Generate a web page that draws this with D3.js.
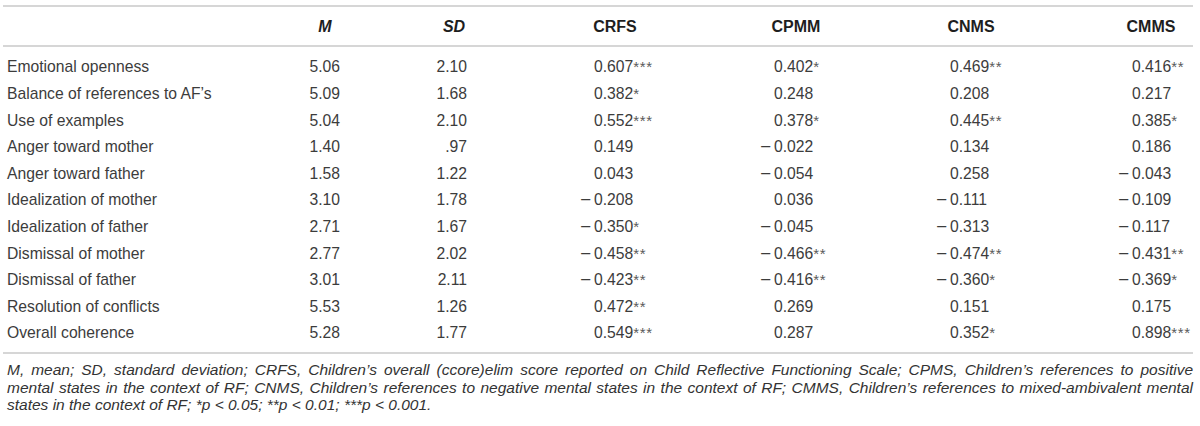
<!DOCTYPE html>
<html>
<head>
<meta charset="utf-8">
<script src="https://cdn.jsdelivr.net/npm/d3@7"></script>
<style>
  html, body { margin: 0; padding: 0; background: #fff; }
  svg { display: block; }
</style>
</head>
<body>
<div id="chart"></div>
<script>
// ---------- data ----------
const rowLabels = [
  "Emotional openness",
  "Balance of references to AF\u2019s",
  "Use of examples",
  "Anger toward mother",
  "Anger toward father",
  "Idealization of mother",
  "Idealization of father",
  "Dismissal of mother",
  "Dismissal of father",
  "Resolution of conflicts",
  "Overall coherence"
];
const columnHeaders = ["M", "SD", "CRFS", "CPMM", "CNMS", "CMMS"];
const meanVals = [5.06, 5.09, 5.04, 1.40, 1.58, 3.10, 2.71, 2.77, 3.01, 5.53, 5.28];
const sdVals   = [2.10, 1.68, 2.10, 0.97, 1.22, 1.78, 1.67, 2.02, 2.11, 1.26, 1.77];
const crfsVals = [0.607, 0.382, 0.552, 0.149, 0.043, -0.208, -0.350, -0.458, -0.423, 0.472, 0.549];
const crfsSig  = [3, 1, 3, 0, 0, 0, 1, 2, 2, 2, 3];
const cpmmVals = [0.402, 0.248, 0.378, -0.022, -0.054, 0.036, -0.045, -0.466, -0.416, 0.269, 0.287];
const cpmmSig  = [1, 0, 1, 0, 0, 0, 0, 2, 2, 0, 0];
const cnmsVals = [0.469, 0.208, 0.445, 0.134, 0.258, -0.111, -0.313, -0.474, -0.360, 0.151, 0.352];
const cnmsSig  = [2, 0, 2, 0, 0, 0, 0, 2, 1, 0, 1];
const cmmsVals = [0.416, 0.217, 0.385, 0.186, -0.043, -0.109, -0.117, -0.431, -0.369, 0.175, 0.898];
const cmmsSig  = [2, 0, 1, 0, 0, 0, 0, 2, 1, 0, 3];
const footnoteLines = [
  "M, mean; SD, standard deviation; CRFS, Children\u2019s overall (ccore)elim score reported on Child Reflective Functioning Scale; CPMS, Children\u2019s references to positive",
  "mental states in the context of RF; CNMS, Children\u2019s references to negative mental states in the context of RF; CMMS, Children\u2019s references to mixed-ambivalent mental",
  "states in the context of RF; *p < 0.05; **p < 0.01; ***p < 0.001."
];

// ---------- layout ----------
const W = 1200, H = 426;
const FONT = "'Liberation Sans', Arial, Helvetica, sans-serif";
const svg = d3.select("#chart").append("svg").attr("width", W).attr("height", H)
  .style("font-family", FONT);
svg.append("rect").attr("width", W).attr("height", H).attr("fill", "#fff");

const y = d3.scalePoint().domain(d3.range(rowLabels.length)).range([67, 333]);
const headX = d3.scaleOrdinal().domain(columnHeaders).range([325, 454, 615, 796, 971, 1151]);
const valX  = d3.scaleOrdinal().domain(columnHeaders).range([340, 467, 594, 774, 950, 1132]);

const lineColor = "#d6d6d6";
[6, 46, 353].forEach(ly => {
  svg.append("line").attr("x1", 3).attr("x2", 1193).attr("y1", ly).attr("y2", ly)
    .attr("stroke", lineColor).attr("stroke-width", 2);
});

// header
svg.append("g").selectAll("text").data(columnHeaders).join("text")
  .attr("x", d => headX(d)).attr("y", 26.5).attr("dy", "0.35em")
  .attr("text-anchor", "middle")
  .attr("font-size", 16).attr("font-weight", "bold")
  .attr("font-style", d => (d === "M" || d === "SD") ? "italic" : "normal")
  .attr("fill", "#1e1e1e")
  .text(d => d);

const bodyColor = "#3c3c3c";
const bodySize = 15.7;

// row labels
svg.append("g").selectAll("text").data(rowLabels).join("text")
  .attr("x", 7).attr("y", (d, i) => y(i)).attr("dy", "0.35em")
  .attr("font-size", bodySize).attr("fill", bodyColor)
  .text(d => d);

// M and SD (right aligned)
const fmt2 = v => { const s = d3.format(".2f")(v); return v < 1 ? s.replace(/^0/, "") : s; };
[["M", meanVals], ["SD", sdVals]].forEach(([key, vals]) => {
  svg.append("g").selectAll("text").data(vals).join("text")
    .attr("x", valX(key)).attr("y", (d, i) => y(i)).attr("dy", "0.35em")
    .attr("text-anchor", "end")
    .attr("font-size", bodySize).attr("fill", bodyColor)
    .text(d => fmt2(d));
});

// correlation columns (decimal aligned; minus and stars hang)
const fmt3 = d3.format(".3f");
const corrCols = [["CRFS", crfsVals, crfsSig], ["CPMM", cpmmVals, cpmmSig],
                  ["CNMS", cnmsVals, cnmsSig], ["CMMS", cmmsVals, cmmsSig]];
corrCols.forEach(([key, vals, sig]) => {
  const g = svg.append("g");
  const cells = vals.map((v, i) => ({ v, s: sig[i], i }));
  const t = g.selectAll("text.val").data(cells).join("text")
    .attr("class", "val")
    .attr("x", valX(key)).attr("y", d => y(d.i)).attr("dy", "0.35em")
    .attr("font-size", bodySize).attr("fill", bodyColor);
  t.append("tspan").text(d => fmt3(Math.abs(d.v)));
  t.append("tspan").attr("font-size", 15).attr("fill", "#5a5a5a")
    .attr("letter-spacing", 0.6)
    .text(d => "*".repeat(d.s));
  g.selectAll("text.minus").data(cells.filter(d => d.v < 0)).join("text")
    .attr("class", "minus")
    .attr("x", valX(key) - 14).attr("y", d => y(d.i)).attr("dy", "0.35em")
    .attr("font-size", bodySize).attr("fill", bodyColor)
    .attr("textLength", 11).attr("lengthAdjust", "spacingAndGlyphs")
    .text("\u2212");
});

// footnote (first lines justified to the table width)
const fnY = d3.scalePoint().domain(d3.range(footnoteLines.length)).range([370, 405]);
const fnLeft = 7, fnRight = 1193;
footnoteLines.forEach((line, i) => {
  const t = svg.append("text")
    .attr("x", fnLeft).attr("y", fnY(i)).attr("dy", "0.35em")
    .attr("font-size", 15.5).attr("font-style", "italic").attr("fill", "#333")
    .text(line);
  if (i < footnoteLines.length - 1) {
    const natural = t.node().getComputedTextLength();
    const spaces = (line.match(/ /g) || []).length;
    const ws = (fnRight - fnLeft - natural) / spaces;
    if (ws >= -1.5) {
      t.attr("word-spacing", ws);
    } else {
      t.attr("textLength", fnRight - fnLeft).attr("lengthAdjust", "spacingAndGlyphs");
    }
  }
});
</script>
</body>
</html>
